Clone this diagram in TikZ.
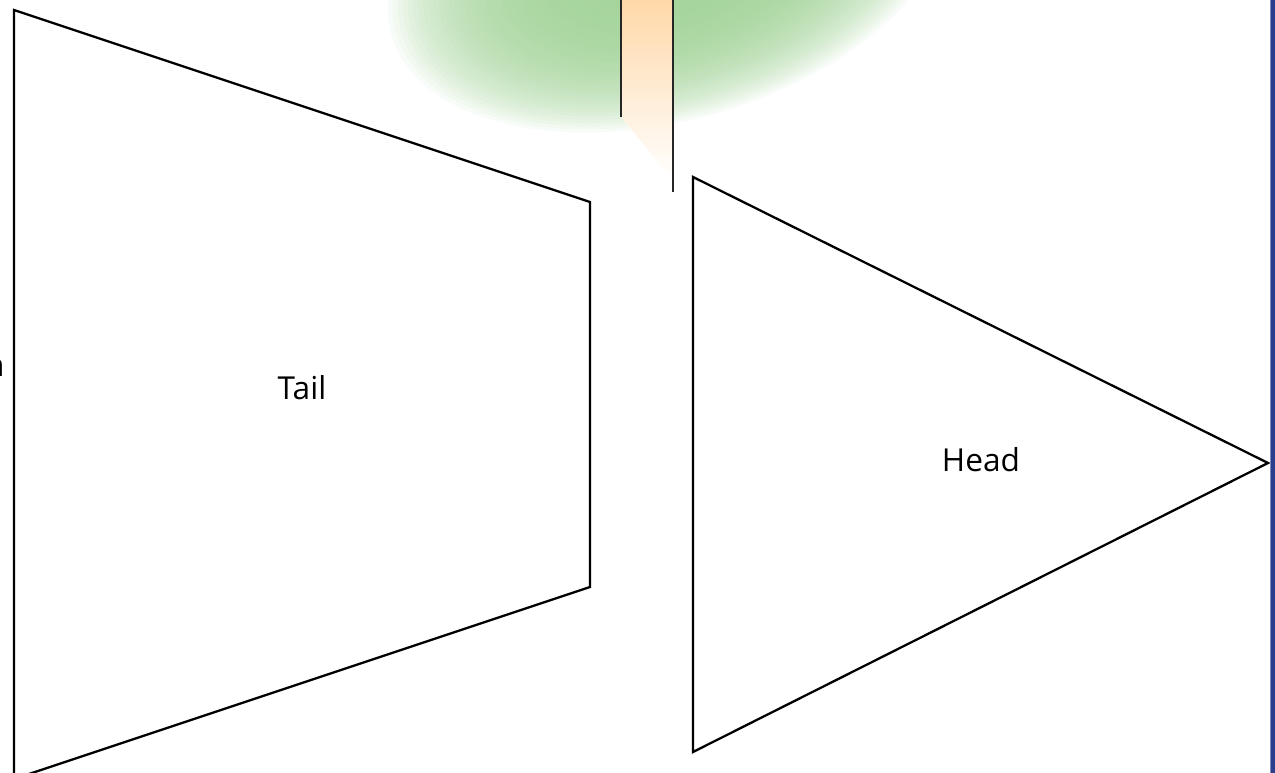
\documentclass[tikz,border=0pt]{standalone}
\usepackage{fontspec}
\setmainfont{Open Sans}

\definecolor{blobgreen}{RGB}{160,210,150}
\definecolor{barorange}{RGB}{255,216,168}
\definecolor{edgeblue}{RGB}{42,62,140}

\tikzset{
  outline/.style={draw=black,line width=1.3pt,line join=miter},
  label/.style={font=\fontsize{18}{22}\selectfont,inner sep=0pt},
  glowlayer/.style={fill=blobgreen,opacity=0.07},
}

\begin{document}
\begin{tikzpicture}[x=0.02cm,y=-0.02cm]
\useasboundingbox (0,0) rectangle (1275,773);
\clip (0,0) rectangle (1275,773);

% green glow at the top
\begin{scope}[rotate around={16:(670,-45)}]
  \foreach \k in {0,...,39}
    \fill[glowlayer] (670,-45) ellipse [x radius={290*(1-0.018*\k)},y radius={165*(1-0.018*\k)}];
\end{scope}

% orange bar
\shade[top color=barorange,bottom color=white]
  (621,0) -- (673,0) -- (673,180) -- (621,117) -- cycle;
\draw[black!85,line width=0.9pt] (621,0) -- (621,117);
\draw[black!85,line width=0.9pt] (673,0) -- (673,192);

% tail and head
\draw[outline] (14,10) -- (590,202) -- (590,587) -- (14,779) -- cycle;
\draw[outline] (693,177) -- (1268,463) -- (693,752) -- cycle;

\node[label] (tail) at (302,388) {Tail};
\node[label] (head) at (981,460) {Head};
\node[label,anchor=east] (cut) at (5,368) {n};

% blue edge
\fill[edgeblue] (1270,0) rectangle (1275,773);
\draw[edgeblue!60!white,line width=0.4pt] (1270.3,0) -- (1270.3,773);
\end{tikzpicture}
\end{document}
